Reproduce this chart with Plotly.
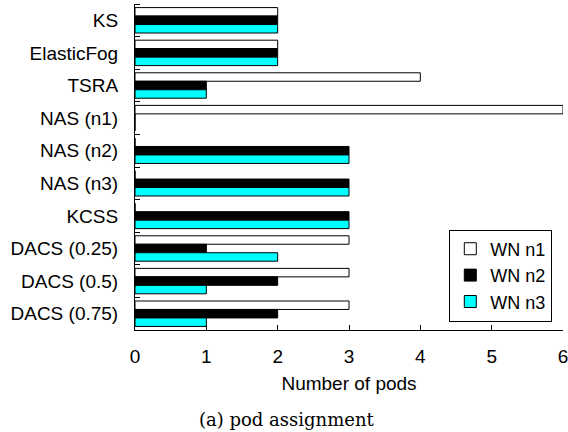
import plotly.graph_objects as go

# Scheduling schemes, listed top to bottom
schemes = ["KS", "ElasticFog", "TSRA", "NAS (n1)", "NAS (n2)", "NAS (n3)",
           "KCSS", "DACS (0.25)", "DACS (0.5)", "DACS (0.75)"]

# Pods placed on each worker node
wn_n1 = [2, 2, 4, 6, 0, 0, 0, 3, 3, 3]
wn_n2 = [2, 2, 1, 0, 3, 3, 3, 1, 2, 2]
wn_n3 = [2, 2, 1, 0, 3, 3, 3, 2, 1, 1]

series_names = ["WN n1", "WN n2", "WN n3"]
series_colors = ["#ffffff", "#000000", "#00ffff"]
x_ticks = [0, 1, 2, 3, 4, 5, 6]

positions = list(range(len(schemes)))
SANS = "Liberation Sans, Arial, sans-serif"

fig = go.Figure()
for name, vals, color in zip(series_names, [wn_n1, wn_n2, wn_n3], series_colors):
    fig.add_trace(go.Bar(
        x=vals, y=positions, orientation="h", name=name,
        marker=dict(color=color, line=dict(color="#000000", width=1)),
    ))

fig.update_layout(
    width=568, height=432,
    margin=dict(l=135, r=5, t=4, b=102),
    paper_bgcolor="white", plot_bgcolor="white",
    barmode="group", bargap=0.22, bargroupgap=0,
    font=dict(family=SANS, size=19, color="black"),
    showlegend=True,
    legend=dict(
        x=0.975, y=0.026, xanchor="right", yanchor="bottom",
        bgcolor="white", bordercolor="black", borderwidth=1,
        font=dict(family=SANS, size=18), tracegroupgap=0,
        itemwidth=30,
    ),
    xaxis=dict(
        range=[0, 6], tickvals=x_ticks, ticktext=[str(v) for v in x_ticks],
        ticks="inside", ticklen=5, tickcolor="black", ticklabeloverflow="allow",
        automargin=False,
        showline=True, linecolor="black", linewidth=1,
        showgrid=False, zeroline=False, ticklabelstandoff=9,
        title=dict(text="Number of pods", font=dict(family=SANS, size=19), standoff=10),
    ),
    yaxis=dict(
        range=[len(schemes) - 0.5, -0.5],
        tickmode="array", tickvals=positions, ticktext=schemes, ticks="",
        minor=dict(tickmode="linear", tick0=0.5, dtick=1, ticks="inside",
                   ticklen=5, tickcolor="black"),
        showline=True, linecolor="black", linewidth=1,
        showgrid=False, zeroline=False, ticklabelstandoff=12,
    ),
)

fig.add_annotation(
    text="(a) pod assignment", xref="paper", yref="paper",
    x=0.355, y=-0.275, xanchor="center", yanchor="middle", showarrow=False,
    font=dict(family="DejaVu Serif, serif", size=18, color="black"),
)

fig.write_html("out.html")
